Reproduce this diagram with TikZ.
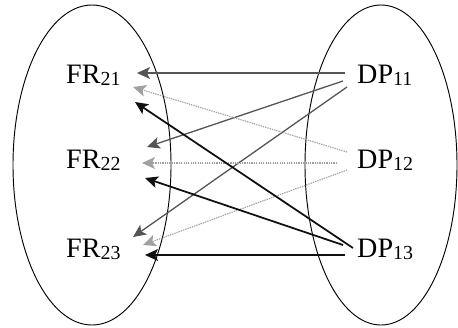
\documentclass[tikz,border=0pt]{standalone}
\usepackage{fontspec}
\setmainfont{Liberation Serif}
\usetikzlibrary{arrows.meta}
\definecolor{dpone}{HTML}{555555}
\definecolor{dptwo}{HTML}{A0A0A0}
\definecolor{dpthree}{HTML}{101010}
% lowered index digits
\newcommand{\idx}[1]{\raisebox{-0.1em}{\fontsize{17}{17}\selectfont #1}}

\begin{document}
\begin{tikzpicture}[x=0.03cm, y=-0.03cm,
    lbl/.style={font=\fontsize{24}{26}\selectfont, inner sep=0pt, anchor=base west},
    link/.style={-{Stealth[length=11pt, width=10pt, inset=2.5pt]}},
    linkone/.style={link, draw=dpone, fill=dpone, line width=1.1pt},
    linktwo/.style={link, draw=dptwo, fill=dptwo, line width=1pt, densely dotted},
    linkthree/.style={link, draw=dpthree, fill=dpthree, line width=1.5pt}]
  \useasboundingbox (0,0) rectangle (458,327);

  % the two domains
  \draw[line width=0.8pt] (92,165) ellipse [x radius=79, y radius=160];
  \draw[line width=0.8pt] (381,165) ellipse [x radius=76, y radius=160];

  % functional requirements
  \node[lbl] (fr21) at (66,83) {FR\idx{21}};
  \node[lbl] (fr22) at (66,168) {FR\idx{22}};
  \node[lbl] (fr23) at (66,257) {FR\idx{23}};

  % design parameters
  \node[lbl] (dp11) at (357,83) {DP\idx{11}};
  \node[lbl] (dp12) at (357,168) {DP\idx{12}};
  \node[lbl] (dp13) at (357,257) {DP\idx{13}};

  % DP11
  \draw[linkone] ([shift={(-12,-10)}]dp11.base west) -- ([shift={(71,-10)}]fr21.base west);
  \draw[linkone] ([shift={(-14,-2)}]dp11.base west) -- ([shift={(81,-21)}]fr22.base west);
  \draw[linkone] ([shift={(-10,4)}]dp11.base west) -- ([shift={(67,-20)}]fr23.base west);

  % DP12
  \draw[linktwo] ([shift={(-10,-16)}]dp12.base west) -- ([shift={(67,4)}]fr21.base west);
  \draw[linktwo] ([shift={(-20,-5)}]dp12.base west) -- ([shift={(76,-5)}]fr22.base west);
  \draw[linktwo] ([shift={(-10,2)}]dp12.base west) -- ([shift={(77,-12)}]fr23.base west);

  % DP13
  \draw[linkthree] ([shift={(-4,-9)}]dp13.base west) -- ([shift={(69,19)}]fr21.base west);
  \draw[linkthree] ([shift={(-14,-12)}]dp13.base west) -- ([shift={(79,10)}]fr22.base west);
  \draw[linkthree] ([shift={(-12,-2)}]dp13.base west) -- ([shift={(79,-2)}]fr23.base west);
\end{tikzpicture}
\end{document}
